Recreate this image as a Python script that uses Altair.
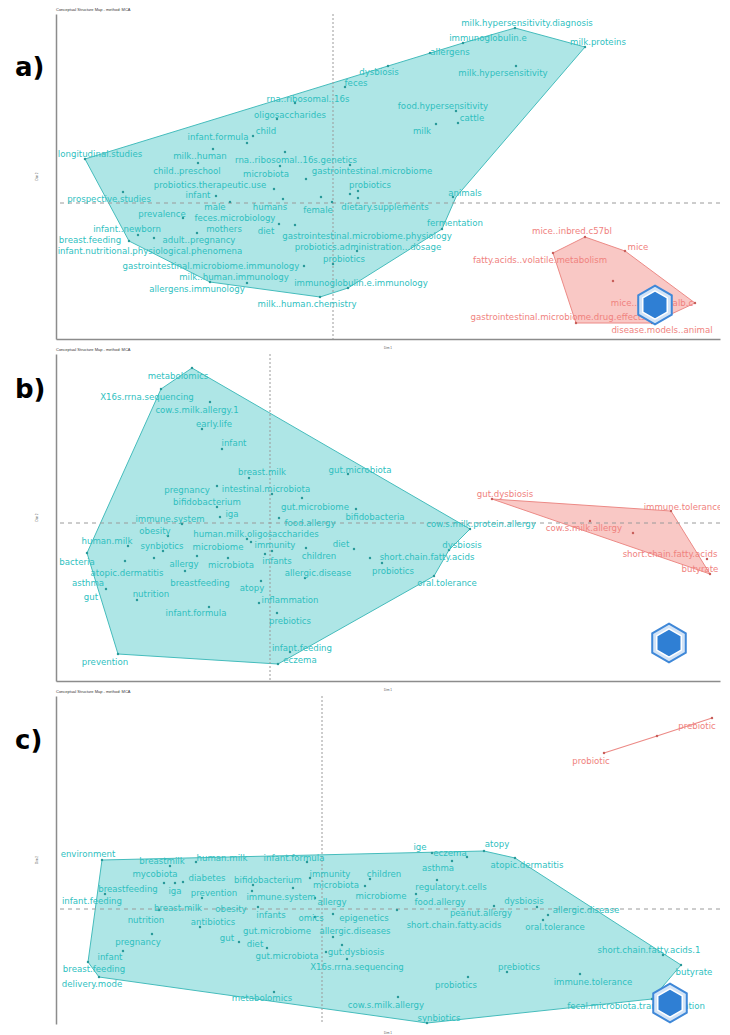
import altair as alt
import pandas as pd

TEAL_TXT = "#2fbfbf"
TEAL_FILL = "#aee6e6"
TEAL_LINE = "#45bcbc"
TEAL_DOT = "#2a9a9a"
RED_TXT = "#f0827e"
RED_FILL = "#f9c8c5"
RED_LINE = "#ec8a86"
RED_DOT = "#c8605c"
TITLE = "Conceptual Structure Map - method: MCA"

# ---------------- panel a ----------------
a_teal_words = ["longitudinal.studies", "prospective.studies", "rna..ribosomal..16s", "oligosaccharides", "child",
                "infant.formula", "milk..human", "rna..ribosomal..16s.genetics", "child..preschool", "microbiota",
                "gastrointestinal.microbiome", "probiotics.therapeutic.use", "infant", "probiotics", "male", "humans",
                "female", "dietary.supplements", "prevalence", "feces.microbiology", "infant..newborn", "mothers",
                "diet", "gastrointestinal.microbiome.physiology", "breast.feeding", "adult..pregnancy",
                "probiotics.administration...dosage", "infant.nutritional.physiological.phenomena", "probiotics",
                "gastrointestinal.microbiome.immunology", "milk..human.immunology", "immunoglobulin.e.immunology",
                "allergens.immunology", "milk..human.chemistry", "dysbiosis", "feces", "allergens", "immunoglobulin.e",
                "milk.hypersensitivity.diagnosis", "milk.proteins", "milk.hypersensitivity", "food.hypersensitivity",
                "cattle", "milk", "animals", "fermentation"]
a_teal_x = [-2.33, -2.24, -0.25, -0.43, -0.67, -1.15, -1.33, -0.37, -1.46, -0.67, 0.39, -1.23, -1.35, 0.37, -1.18,
            -0.63, -0.15, 0.52, -1.71, -0.98, -2.06, -1.09, -0.67, 0.34, -2.43, -1.34, 0.35, -1.83, 0.11, -1.22,
            -0.99, 0.28, -1.36, -0.26, 0.46, 0.23, 1.17, 1.55, 1.94, 2.65, 1.70, 1.10, 1.39, 0.89, 1.32, 1.22]
a_teal_y = [0.49, 0.04, 1.04, 0.88, 0.72, 0.66, 0.47, 0.43, 0.32, 0.29, 0.32, 0.18, 0.08, 0.18, -0.04, -0.04, -0.07,
            -0.04, -0.11, -0.15, -0.26, -0.26, -0.28, -0.33, -0.37, -0.37, -0.44, -0.48, -0.56, -0.63, -0.74, -0.80,
            -0.86, -1.01, 1.31, 1.20, 1.51, 1.65, 1.80, 1.61, 1.30, 0.97, 0.85, 0.72, 0.10, -0.20]
a_red_words = ["mice..inbred.c57bl", "mice", "fatty.acids..volatile.metabolism", "mice..inbred.balb.c",
               "gastrointestinal.microbiome.drug.effects", "disease.models..animal"]
a_red_x = [2.39, 3.05, 2.07, 3.19, 2.25, 3.29]
a_red_y = [-0.28, -0.44, -0.57, -1.00, -1.14, -1.27]
a_teal_dot_x = [-2.48, -2.10, -0.38, -0.56, -0.80, -0.86, -1.20, -1.35, -0.48, 0.17, -0.53, -0.27, -0.59, -1.17, 0.25,
                0.17, 0.25, -1.03, -0.50, -0.01, -0.12, -1.50, -0.54, -1.95, -1.36, -0.38, -2.04, -1.79, 0.24, -0.29,
                0.00, -1.23, -0.86, 0.15, -0.13, 0.12, 0.55, 0.97, 1.30, 1.82, 2.52, 1.83, 1.23, 1.25, 1.03, 1.20, 1.09]
a_teal_dot_y = [0.44, 0.11, 1.00, 0.84, 0.67, 0.60, 0.54, 0.40, 0.51, 0.38, 0.37, 0.24, 0.14, 0.07, 0.12, 0.09, 0.05,
                0.01, 0.04, 0.01, 0.06, -0.15, -0.21, -0.32, -0.30, -0.22, -0.38, -0.35, -0.48, -0.63, -0.61, -0.79,
                -0.80, -0.85, -0.94, 1.16, 1.37, 1.50, 1.60, 1.75, 1.56, 1.37, 0.92, 0.80, 0.79, 0.06, -0.26]
a_red_dot_x = [2.52, 2.92, 2.20, 3.62, 3.19, 2.43, 2.80]
a_red_dot_y = [-0.34, -0.48, -0.50, -1.00, -1.20, -1.20, -0.78]
a_teal_hull_x = [-2.48, 0.55, 1.30, 1.82, 2.52, 1.23, 1.09, 0.15, -0.13, -1.23, -2.04, -2.48]
a_teal_hull_y = [0.44, 1.37, 1.60, 1.75, 1.56, 0.06, -0.26, -0.85, -0.94, -0.79, -0.38, 0.44]
a_red_hull_x = [2.52, 2.92, 3.62, 3.19, 2.43, 2.20, 2.52]
a_red_hull_y = [-0.34, -0.48, -1.00, -1.20, -1.20, -0.50, -0.34]

# ---------------- panel b ----------------
b_teal_words = ["metabolomics", "X16s.rrna.sequencing", "cow.s.milk.allergy.1", "early.life", "infant", "breast.milk",
                "gut.microbiota", "pregnancy", "intestinal.microbiota", "bifidobacterium", "gut.microbiome", "iga",
                "bifidobacteria", "immune.system", "food.allergy", "obesity", "cow.s.milk.protein.allergy",
                "human.milk.oligosaccharides", "human.milk", "synbiotics", "microbiome", "immunity", "diet",
                "children", "bacteria", "allergy", "microbiota", "infants", "short.chain.fatty.acids", "dysbiosis",
                "atopic.dermatitis", "allergic.disease", "probiotics", "asthma", "breastfeeding", "atopy",
                "oral.tolerance", "gut", "nutrition", "inflammation", "infant.formula", "prebiotics",
                "infant.feeding", "eczema", "prevention"]
b_teal_x = [-0.92, -1.23, -0.73, -0.56, -0.36, -0.08, 0.90, -0.83, -0.04, -0.63, 0.45, -0.38, 1.05, -1.00, 0.40,
            -1.15, 2.11, -0.14, -1.63, -1.08, -0.52, 0.05, 0.71, 0.49, -1.93, -0.86, -0.39, 0.07, 1.57, 1.92, -1.43,
            0.48, 1.23, -1.82, -0.70, -0.18, 1.77, -1.79, -1.19, 0.20, -0.74, 0.20, 0.32, 0.30, -1.65]
b_teal_y = [1.47, 1.26, 1.13, 0.99, 0.80, 0.51, 0.53, 0.33, 0.34, 0.21, 0.16, 0.09, 0.06, 0.04, 0.00, -0.08, -0.01,
            -0.11, -0.18, -0.23, -0.24, -0.22, -0.21, -0.33, -0.39, -0.41, -0.42, -0.38, -0.34, -0.22, -0.50, -0.50,
            -0.48, -0.60, -0.60, -0.65, -0.60, -0.74, -0.71, -0.77, -0.90, -0.98, -1.25, -1.37, -1.39]
b_red_words = ["gut.dysbiosis", "immune.tolerance", "cow.s.milk.allergy", "short.chain.fatty.acids", "butyrate"]
b_red_x = [2.35, 4.13, 3.14, 4.00, 4.30]
b_red_y = [0.29, 0.16, -0.05, -0.31, -0.46]
b_teal_dot_x = [-0.78, -1.09, -0.60, -0.68, -0.48, -0.21, 0.78, -0.53, 0.02, -0.53, 0.32, 0.86, -0.50, -0.88, 0.09,
                -1.02, 2.00, -0.23, -0.19, -1.42, -1.07, -0.73, -0.05, 0.02, 0.84, 0.36, -1.83, -1.16, -0.42, 1.00,
                1.79, -1.45, 0.35, 1.12, -1.64, -0.85, -0.09, 1.64, -1.33, -0.11, -0.61, 0.07, 0.20, 0.08, -1.52]
b_teal_dot_y = [1.55, 1.34, 1.21, 0.94, 0.74, 0.45, 0.49, 0.37, 0.29, 0.16, 0.25, 0.14, 0.06, -0.01, 0.05, -0.13,
                -0.06, -0.16, -0.19, -0.23, -0.28, -0.33, -0.31, -0.28, -0.26, -0.25, -0.30, -0.35, -0.35, -0.35,
                -0.27, -0.38, -0.55, -0.40, -0.66, -0.48, -0.58, -0.53, -0.77, -0.80, -0.84, -0.90, -1.29, -1.41, -1.31]
b_red_dot_x = [2.22, 4.01, 3.20, 3.63, 4.37, 4.40]
b_red_dot_y = [0.24, 0.12, 0.02, -0.10, -0.36, -0.51]
b_teal_hull_x = [-0.78, 2.00, 1.79, 1.64, 0.08, -1.52, -1.83, -1.09, -0.78]
b_teal_hull_y = [1.55, -0.06, -0.27, -0.53, -1.41, -1.31, -0.30, 1.34, 1.55]
b_red_hull_x = [2.22, 4.01, 4.40, 2.22]
b_red_hull_y = [0.24, 0.12, -0.51, 0.24]

# ---------------- panel c ----------------
c_teal_words = ["environment", "breastmilk", "human.milk", "infant.formula", "mycobiota", "diabetes", "bifidobacterium",
                "immunity", "children", "breastfeeding", "iga", "prevention", "microbiota", "immune.system",
                "infant.feeding", "allergy", "microbiome", "breast.milk", "obesity", "infants", "omics", "epigenetics",
                "nutrition", "antibiotics", "gut.microbiome", "allergic.diseases", "pregnancy", "gut", "diet",
                "gut.dysbiosis", "infant", "gut.microbiota", "X16s.rrna.sequencing", "breast.feeding", "delivery.mode",
                "metabolomics", "cow.s.milk.allergy", "synbiotics", "probiotics", "prebiotics", "immune.tolerance",
                "fecal.microbiota.transplantation", "butyrate", "short.chain.fatty.acids.1", "ige", "eczema", "atopy",
                "asthma", "atopic.dermatitis", "regulatory.t.cells", "food.allergy", "dysbiosis", "peanut.allergy",
                "allergic.disease", "short.chain.fatty.acids", "oral.tolerance"]
c_teal_x = [-2.34, -1.60, -1.00, -0.28, -1.67, -1.15, -0.54, 0.08, 0.62, -1.94, -1.47, -1.08, 0.14, -0.41, -2.30,
            0.10, 0.59, -1.44, -0.91, -0.51, -0.11, 0.42, -1.76, -1.09, -0.45, 0.33, -1.84, -0.95, -0.67, 0.34, -2.12,
            -0.35, 0.35, -2.28, -2.30, -0.60, 0.64, 1.17, 1.34, 1.97, 2.71, 3.14, 3.72, 3.27, 0.98, 1.28, 1.75, 1.16,
            2.05, 1.29, 1.18, 2.02, 1.59, 2.64, 1.32, 2.33]
c_teal_y = [0.55, 0.48, 0.51, 0.51, 0.35, 0.31, 0.29, 0.35, 0.35, 0.20, 0.18, 0.16, 0.24, 0.12, 0.08, 0.07, 0.13,
            0.01, 0.00, -0.06, -0.09, -0.09, -0.11, -0.13, -0.22, -0.22, -0.33, -0.29, -0.35, -0.43, -0.48, -0.47,
            -0.58, -0.60, -0.75, -0.89, -0.96, -1.09, -0.76, -0.58, -0.73, -0.97, -0.63, -0.41, 0.62, 0.56, 0.65,
            0.41, 0.44, 0.22, 0.07, 0.08, -0.04, -0.01, -0.16, -0.18]
c_red_words = ["prebiotic", "probiotic"]
c_red_x = [3.75, 2.69]
c_red_y = [1.83, 1.48]
c_teal_dot_x = [-2.20, -1.52, -1.26, -0.15, -1.58, -1.47, -1.39, -0.69, -0.70, -0.29, -0.12, 0.48, -2.17, -1.20, 0.43,
                -0.07, -1.63, -0.64, -0.07, 0.11, -1.22, 0.11, -1.70, -0.83, -0.55, 0.20, -1.99, 0.04, 0.25, -2.34,
                -2.23, -0.48, 0.76, 1.05, 1.46, 1.85, 2.58, 3.30, 3.59, 3.41, 1.10, 1.45, 1.62, 1.30, 1.93, 1.15, 0.94,
                2.15, 1.72, 2.26, 0.75, 2.21]
c_teal_dot_y = [0.49, 0.43, 0.47, 0.47, 0.26, 0.26, 0.27, 0.24, 0.18, 0.21, 0.31, 0.30, 0.15, 0.11, 0.23, 0.11, -0.01,
                0.02, -0.08, -0.05, -0.18, -0.28, -0.25, -0.33, -0.39, -0.36, -0.42, -0.43, -0.50, -0.53, -0.68,
                -0.83, -0.88, -1.14, -0.68, -0.63, -0.65, -0.90, -0.56, -0.46, 0.56, 0.52, 0.58, 0.48, 0.51, 0.29,
                0.15, 0.02, 0.03, -0.06, -0.01, -0.11]
c_red_dot_x = [3.90, 3.35, 2.82]
c_red_dot_y = [1.91, 1.73, 1.56]
c_teal_hull_x = [-2.20, 1.62, 1.93, 3.59, 3.30, 1.05, -2.23, -2.34, -2.20]
c_teal_hull_y = [0.49, 0.58, 0.51, -0.56, -0.90, -1.14, -0.68, -0.53, 0.49]
c_red_hull_x = [2.82, 3.35, 3.90]
c_red_hull_y = [1.56, 1.73, 1.91]

HEX = "M0,-1L0.866,-0.5L0.866,0.5L0,1L-0.866,0.5L-0.866,-0.5Z"
W = 664
LABEL_FONT = "DejaVu Sans"
LABEL_SIZE = 8.6


def lab_df(words, xs, ys):
    return pd.DataFrame({"word": words, "x": xs, "y": ys})


def xy_df(xs, ys):
    return pd.DataFrame({"x": xs, "y": ys, "i": list(range(len(xs)))})


def panel(tag, tag_y, teal_lab, red_lab, teal_dots, red_dots, teal_hull, red_hull, red_filled,
          xdom, ydom, h, logo, show_xdomain=True):
    xs = alt.Scale(domain=xdom, nice=False, zero=False)
    ys = alt.Scale(domain=ydom, nice=False, zero=False)
    xa = alt.Axis(domain=show_xdomain, ticks=False, labels=False, grid=False, title=None,
                  domainColor="#8c8c8c", domainWidth=1.5)
    ya = alt.Axis(domain=True, ticks=False, labels=False, grid=False, title=None,
                  domainColor="#8c8c8c", domainWidth=1.5)

    def X():
        return alt.X("x:Q", scale=xs, axis=xa)

    def Y():
        return alt.Y("y:Q", scale=ys, axis=ya)

    one = pd.DataFrame({"k": [0]})
    zero = pd.DataFrame({"x": [0.0], "y": [0.0]})
    layers = [
        alt.Chart(teal_hull).mark_line(fill=TEAL_FILL, stroke=TEAL_LINE, strokeWidth=1)
        .encode(x=X(), y=Y(), order="i:Q"),
    ]
    if red_filled:
        layers.append(alt.Chart(red_hull).mark_line(fill=RED_FILL, stroke=RED_LINE, strokeWidth=1)
                      .encode(x=X(), y=Y(), order="i:Q"))
    else:
        layers.append(alt.Chart(red_hull).mark_line(stroke=RED_LINE, strokeWidth=1.2)
                      .encode(x=X(), y=Y(), order="i:Q"))
    layers += [
        alt.Chart(zero).mark_rule(color="#9a9a9a", strokeWidth=1, strokeDash=[4, 4]).encode(y=Y()),
        alt.Chart(zero).mark_rule(color="#9a9a9a", strokeWidth=1, strokeDash=[2, 2]).encode(x=X()),
        alt.Chart(teal_dots).mark_circle(size=6, color=TEAL_DOT, opacity=1).encode(x=X(), y=Y()),
        alt.Chart(red_dots).mark_circle(size=6, color=RED_DOT, opacity=1).encode(x=X(), y=Y()),
        alt.Chart(teal_lab).mark_text(fontSize=LABEL_SIZE, font=LABEL_FONT, color=TEAL_TXT, clip=True)
        .encode(x=X(), y=Y(), text="word:N"),
        alt.Chart(red_lab).mark_text(fontSize=LABEL_SIZE, font=LABEL_FONT, color=RED_TXT, clip=True)
        .encode(x=X(), y=Y(), text="word:N"),
        alt.Chart(one).mark_point(shape=HEX, size=1500, filled=True, fill="#d3e4f7", stroke="#3f88d8",
                                  strokeWidth=2, opacity=1)
        .encode(x=alt.value(logo[0]), y=alt.value(logo[1])),
        alt.Chart(one).mark_point(shape=HEX, size=800, filled=True, fill="#2f7fd4", stroke="white",
                                  strokeWidth=1.5, opacity=1)
        .encode(x=alt.value(logo[0]), y=alt.value(logo[1])),
        alt.Chart(one).mark_text(text=tag, fontSize=26, fontWeight="bold", font="DejaVu Sans", align="left",
                                 baseline="middle", color="black")
        .encode(x=alt.value(-41), y=alt.value(tag_y)),
        alt.Chart(one).mark_text(text=TITLE, fontSize=4, align="left", baseline="middle", color="#333333")
        .encode(x=alt.value(0), y=alt.value(-4)),
        alt.Chart(one).mark_text(text="Dim 1", fontSize=3, align="center", baseline="middle", color="#555555")
        .encode(x=alt.value(W / 2), y=alt.value(h + 9)),
        alt.Chart(one).mark_text(text="Dim 2", fontSize=3, angle=270, align="center", baseline="middle",
                                 color="#555555")
        .encode(x=alt.value(-19), y=alt.value(h / 2)),
    ]
    return alt.layer(*layers).properties(width=W, height=h)


pa = panel("a)", 54, lab_df(a_teal_words, a_teal_x, a_teal_y), lab_df(a_red_words, a_red_x, a_red_y),
           xy_df(a_teal_dot_x, a_teal_dot_y), xy_df(a_red_dot_x, a_red_dot_y),
           xy_df(a_teal_hull_x, a_teal_hull_y), xy_df(a_red_hull_x, a_red_hull_y), True,
           [-2.77, 3.87], [-1.36, 1.89], 325, (599, 291))
pb = panel("b)", 36, lab_df(b_teal_words, b_teal_x, b_teal_y), lab_df(b_red_words, b_red_x, b_red_y),
           xy_df(b_teal_dot_x, b_teal_dot_y), xy_df(b_red_dot_x, b_red_dot_y),
           xy_df(b_teal_hull_x, b_teal_hull_y), xy_df(b_red_hull_x, b_red_hull_y), True,
           [-2.14, 4.50], [-1.58, 1.69], 327, (613, 289))
pc = panel("c)", 45, lab_df(c_teal_words, c_teal_x, c_teal_y), lab_df(c_red_words, c_red_x, c_red_y),
           xy_df(c_teal_dot_x, c_teal_dot_y), xy_df(c_red_dot_x, c_red_dot_y),
           xy_df(c_teal_hull_x, c_teal_hull_y), xy_df(c_red_hull_x, c_red_hull_y), False,
           [-2.66, 3.98], [-1.15, 2.13], 328, (614, 307), show_xdomain=False)

chart = alt.vconcat(pa, pb, pc, spacing=15, bounds="flush").properties(
    padding={"left": 7, "top": 0, "right": 0, "bottom": 0}
).configure_view(stroke=None)

chart.save("out.html", embed_options={"renderer": "svg", "actions": False})
